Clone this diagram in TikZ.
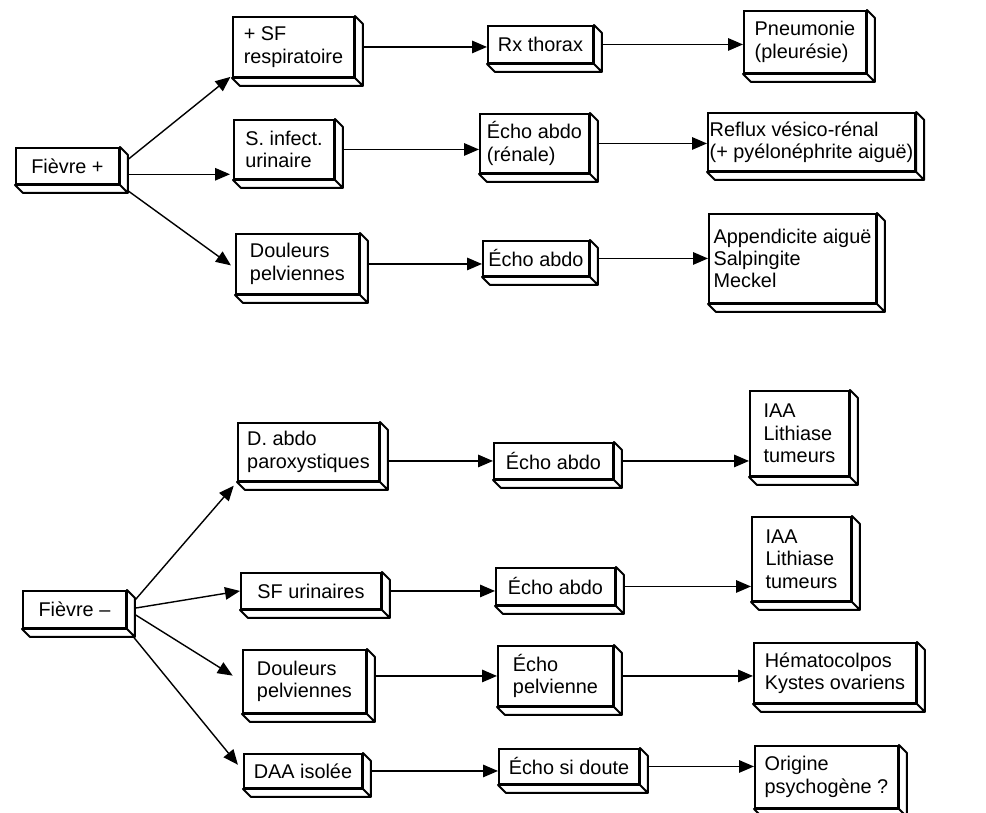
\documentclass[tikz,border=0pt]{standalone}
\usepackage{fontspec}
\setmainfont{Liberation Sans}
\usetikzlibrary{arrows.meta}
\tikzset{
  box/.style={draw, line width=1.1pt, fill=white, anchor=north west, align=left, inner sep=1pt,
    font=\fontsize{11.3}{12.75}\selectfont},
  arr/.style={-{Triangle[length=0.3cm,width=0.25cm]}, line width=0.8pt},
}
\begin{document}
\begin{tikzpicture}
  \useasboundingbox (0,0) rectangle (19.72,-16.26);
  \node[box, minimum width=2.06cm, minimum height=0.72cm] (fp) at (0.30,-2.94) {Fièvre +};
  \node[box, minimum width=2.42cm, minimum height=1.20cm] (sf) at (4.64,-0.32) {+ SF\\respiratoire};
  \node[box, minimum width=2.00cm, minimum height=1.18cm] (si) at (4.66,-2.38) {S. infect.\\urinaire};
  \node[box, minimum width=2.46cm, minimum height=1.20cm] (dp) at (4.70,-4.66) {Douleurs\\pelviennes};
  \node[box, minimum width=2.10cm, minimum height=0.74cm] (rx) at (9.74,-0.50) {Rx thorax};
  \node[box, minimum width=2.18cm, minimum height=1.18cm] (ea) at (9.58,-2.26) {Écho abdo\\(rénale)};
  \node[box, minimum width=2.12cm, minimum height=0.70cm] (eb) at (9.64,-4.80) {Écho abdo};
  \node[box, minimum width=2.44cm, minimum height=1.24cm] (pn) at (14.86,-0.20) {Pneumonie\\(pleurésie)};
  \node[box, minimum width=4.12cm, minimum height=1.16cm] (rf) at (14.14,-2.24) {Reflux vésico-rénal\\(+ pyélonéphrite aiguë)};
  \node[box, minimum width=3.34cm, minimum height=1.78cm] (ap) at (14.16,-4.26) {Appendicite aiguë\\Salpingite\\Meckel};

  \node[box, minimum width=2.06cm, minimum height=0.74cm] (fm) at (0.44,-11.80) {Fièvre –};
  \node[box, minimum width=2.82cm, minimum height=1.16cm] (da) at (4.74,-8.44) {D. abdo\\paroxystiques};
  \node[box, minimum width=2.80cm, minimum height=0.72cm] (su) at (4.80,-11.44) {SF urinaires};
  \node[box, minimum width=2.46cm, minimum height=1.26cm] (dq) at (4.84,-12.98) {Douleurs\\pelviennes};
  \node[box, minimum width=2.36cm, minimum height=0.68cm] (di) at (4.86,-15.06) {DAA isolée};
  \node[box, minimum width=2.38cm, minimum height=0.72cm] (e1) at (9.86,-8.84) {Écho abdo};
  \node[box, minimum width=2.38cm, minimum height=0.74cm] (e2) at (9.90,-11.34) {Écho abdo};
  \node[box, minimum width=2.30cm, minimum height=1.20cm] (e3) at (9.94,-12.90) {Écho\\pelvienne};
  \node[box, minimum width=2.80cm, minimum height=0.70cm] (e4) at (9.96,-14.96) {Écho si doute};
  \node[box, minimum width=1.98cm, minimum height=1.70cm] (r1) at (14.98,-7.80) {IAA\\Lithiase\\tumeurs};
  \node[box, minimum width=1.98cm, minimum height=1.68cm] (r2) at (15.02,-10.32) {IAA\\Lithiase\\tumeurs};
  \node[box, minimum width=3.24cm, minimum height=1.20cm] (r3) at (15.06,-12.84) {Hématocolpos\\Kystes ovariens};
  \node[box, minimum width=2.86cm, minimum height=1.24cm] (r4) at (15.08,-14.90) {Origine\\psychogène ?};

  \draw[arr, shorten >=0.04cm] (fp.east) -- (sf.205);
  \draw[arr, shorten >=0.06cm] (fp.-9) -- (fp.-9 -| si.west);
  \draw[arr, shorten >=0.1cm] (fp.south east) -- (dp.184);
  \draw[arr] (sf.east) -- (sf.east -| rx.west);
  \draw[arr] (si.east) -- (si.east -| ea.west);
  \draw[arr] (dp.east) -- (dp.east -| eb.west);
  \draw[arr] (rx.east) -- (rx.east -| pn.west);
  \draw[arr] (ea.east) -- (ea.east -| rf.west);
  \draw[arr] (eb.east) -- (eb.east -| ap.west);

  \draw[arr, shorten >=0.1cm] (fm.east) -- (da.south west);
  \draw[arr] (fm.east) -- (su.west);
  \draw[arr, shorten >=0.22cm] (fm.east) -- (dq.west);
  \draw[arr, shorten >=0.16cm] (fm.south east) -- (di.west);
  \draw[arr] (da.east |- e1.west) -- (e1.west);
  \draw[arr] (su.east) -- (su.east -| e2.west);
  \draw[arr] (dq.east |- e3.west) -- (e3.west);
  \draw[arr] (di.east) -- (di.east -| e4.west);
  \draw[arr] (e1.east) -- (e1.east -| r1.west);
  \draw[arr] (e2.east) -- (e2.east -| r2.west);
  \draw[arr] (e3.east) -- (e3.east -| r3.west);
  \draw[arr] (e4.east) -- (e4.east -| r4.west);

  \foreach \n in {fp,sf,si,dp,rx,ea,eb,pn,rf,ap,fm,da,su,dq,di,e1,e2,e3,e4,r1,r2,r3,r4}
    \filldraw[fill=white, line width=1.1pt, line join=round] (\n.north east) -- ++(0.16,-0.16)
      -- ([shift={(0.16,-0.16)}]\n.south east) -- ([shift={(0.16,-0.16)}]\n.south west)
      -- (\n.south west) -- (\n.south east) -- cycle
      (\n.south east) -- ++(0.16,-0.16);
\end{tikzpicture}
\end{document}
